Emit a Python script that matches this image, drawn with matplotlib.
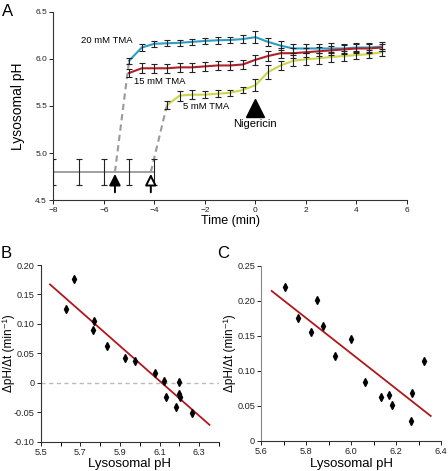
import matplotlib
matplotlib.use('Agg')
import matplotlib.pyplot as plt
import numpy as np

plt.rcParams['font.family'] = ['Liberation Sans', 'DejaVu Sans']

# panel A: time course
t20 = [-5, -4.5, -4, -3.5, -3, -2.5, -2, -1.5, -1, -0.5, 0, 0.5, 1, 1.5, 2, 2.5, 3, 3.5, 4, 4.5, 5]
ph20 = [5.98, 6.12, 6.16, 6.165, 6.17, 6.18, 6.19, 6.197, 6.20, 6.21, 6.23, 6.18, 6.14, 6.11,
        6.11, 6.11, 6.11, 6.11, 6.12, 6.12, 6.13]
err20 = [0.03, 0.034, 0.03, 0.03, 0.03, 0.03, 0.035, 0.035, 0.035, 0.04, 0.062, 0.04, 0.045, 0.048,
         0.05, 0.05, 0.053, 0.05, 0.05, 0.05, 0.045]
t15 = t20
ph15 = [5.85, 5.90, 5.90, 5.90, 5.91, 5.91, 5.92, 5.93, 5.93, 5.94, 5.99, 6.03, 6.06, 6.06,
        6.07, 6.08, 6.09, 6.10, 6.11, 6.11, 6.12]
err15 = [0.04, 0.053, 0.05, 0.05, 0.048, 0.045, 0.045, 0.048, 0.048, 0.045, 0.053, 0.05, 0.05, 0.05,
         0.05, 0.05, 0.05, 0.05, 0.05, 0.045, 0.04]
t5 = [-3.5, -3, -2.5, -2, -1.5, -1, -0.5, 0, 0.5, 1, 1.5, 2, 2.5, 3, 3.5, 4, 4.5, 5]
ph5 = [5.51, 5.61, 5.62, 5.62, 5.63, 5.64, 5.67, 5.72, 5.86, 5.93, 5.98, 5.995, 6.005, 6.02,
       6.03, 6.04, 6.05, 6.07]
err5 = [0.04, 0.053, 0.045, 0.04, 0.035, 0.03, 0.03, 0.062, 0.07, 0.05, 0.06, 0.062, 0.06, 0.055,
        0.05, 0.045, 0.04, 0.035]
t_base = [-8, -7, -6, -5, -4]
ph_base = [4.8, 4.8, 4.8, 4.8, 4.8]
err_base = [0.14, 0.14, 0.14, 0.14, 0.14]
dash1_t = [-5.56, -5.0]
dash1_ph = [4.8, 5.98]
dash2_t = [-4.14, -3.5]
dash2_ph = [4.8, 5.51]

# panel B
b_ph = [5.628, 5.668, 5.769, 5.764, 5.833, 5.926, 5.976, 6.079, 6.123, 6.200, 6.131, 6.198, 6.203, 6.185, 6.264]
b_rate = [0.126, 0.176, 0.105, 0.089, 0.063, 0.042, 0.037, 0.016, 0.002, 0.001, -0.024, -0.019, -0.024, -0.041, -0.051]
b_fit_x = [5.547, 6.352]
b_fit_y = [0.167, -0.0717]

# panel C
c_ph = [5.705, 5.763, 5.822, 5.874, 5.848, 5.929, 6.0, 6.061, 6.131, 6.168, 6.181, 6.271, 6.267, 6.324]
c_rate = [0.219, 0.175, 0.156, 0.164, 0.201, 0.121, 0.145, 0.084, 0.063, 0.065, 0.052, 0.069, 0.028, 0.114]
c_fit_x = [5.646, 6.353]
c_fit_y = [0.214, 0.0357]

W, H = 448, 471
fig = plt.figure(figsize=(W / 100, H / 100), dpi=100)

def style(ax, fs):
    for s in ['top', 'right']:
        ax.spines[s].set_visible(False)
    for s in ['left', 'bottom']:
        ax.spines[s].set_linewidth(0.8)
        ax.spines[s].set_color('#333333')
    ax.tick_params(direction='out', length=3, width=0.7, labelsize=fs, pad=1.5, colors='#222222')
    ax.tick_params(which='minor', direction='out', length=3, width=0.7)

# ---- A ----
axA = fig.add_axes([53.3 / W, 1 - 200.3 / H, (407 - 53.3) / W, (200.3 - 11.7) / H])
style(axA, 6)
axA.set_xlim(-8, 6)
axA.set_ylim(4.5, 6.5)
axA.set_xticks(range(-8, 7, 2))
axA.set_yticks([4.5, 5.0, 5.5, 6.0, 6.5])
axA.set_yticklabels(['4.5', '5.0', '5.5', '6.0', '6.5'])

eb = dict(fmt='none', ecolor='#222222', elinewidth=0.8, capsize=2.2, capthick=0.8, zorder=4)
axA.plot(t_base, ph_base, color='#a0a0a0', lw=1.4, zorder=2)
axA.errorbar(t_base, ph_base, yerr=err_base, **eb)
axA.plot(dash1_t, dash1_ph, color='#9a9a9a', lw=1.5, ls=(0, (3, 2)), zorder=1)
axA.plot(dash2_t, dash2_ph, color='#9a9a9a', lw=1.5, ls=(0, (3, 2)), zorder=1)
axA.plot(t20, ph20, color='#2a9ec4', lw=1.5, zorder=3)
axA.errorbar(t20, ph20, yerr=err20, **eb)
axA.plot(t15, ph15, color='#b3202a', lw=1.5, zorder=3)
axA.errorbar(t15, ph15, yerr=err15, **eb)
axA.plot(t5, ph5, color='#cdd64a', lw=1.5, zorder=3)
axA.errorbar(t5, ph5, yerr=err5, **eb)

axA.annotate('', xy=(-5.56, 4.78), xytext=(-5.56, 4.585),
             arrowprops=dict(arrowstyle='-|>', fc='black', ec='black', lw=1.4, mutation_scale=17,
                             shrinkA=0, shrinkB=0), zorder=5)
axA.annotate('', xy=(-4.14, 4.78), xytext=(-4.14, 4.585),
             arrowprops=dict(arrowstyle='-|>', fc='white', ec='black', lw=1.4, mutation_scale=17,
                             shrinkA=0, shrinkB=0), zorder=5)
axA.plot([0], [5.48], marker='^', ms=13, color='black', zorder=5)

axA.text(-4.85, 6.19, '20 mM TMA', fontsize=6.8, ha='right', va='center')
axA.text(-4.8, 5.76, '15 mM TMA', fontsize=6.8, ha='left', va='center')
axA.text(-2.87, 5.49, '5 mM TMA', fontsize=6.8, ha='left', va='center')
axA.text(0, 5.31, 'Nigericin', fontsize=8, ha='center', va='center')
axA.set_xlabel('Time (min)', fontsize=9, labelpad=1)
axA.set_ylabel('Lysosomal pH', fontsize=10)
axA.yaxis.set_label_coords((25 - 53.3) / (407 - 53.3), 0.5)
fig.text(8 / W, 1 - 11 / H, 'A', fontsize=12, ha='center', va='center')

# ---- B ----
axB = fig.add_axes([40.7 / W, 1 - 441.5 / H, (219 - 40.7) / W, (441.5 - 265) / H])
style(axB, 6.6)
axB.set_xlim(5.5, 6.4)
axB.set_ylim(-0.10, 0.20)
axB.set_xticks([5.5, 5.7, 5.9, 6.1, 6.3])
axB.set_xticks([5.6, 5.8, 6.0, 6.2, 6.4], minor=True)
axB.set_yticks([-0.10, -0.05, 0, 0.05, 0.10, 0.15, 0.20])
axB.set_yticklabels(['-0.10', '-0.05', '0', '0.05', '0.10', '0.15', '0.20'])
axB.axhline(0, color='#bbbbbb', lw=1, ls=(0, (3, 2.5)), zorder=1)
axB.plot(b_fit_x, b_fit_y, color='#b0181c', lw=1.3, zorder=2)
axB.plot(b_ph, b_rate, ls='none', marker='d', ms=4, color='black', zorder=3)
axB.set_xlabel('Lysosomal pH', fontsize=9.5, labelpad=1)
axB.set_ylabel('ΔpH/Δt (min⁻¹)', fontsize=8.5)
axB.yaxis.set_label_coords((15 - 40.7) / (219 - 40.7), 0.5)
fig.text(6 / W, 1 - 253 / H, 'B', fontsize=12, ha='center', va='center')

# ---- C ----
axC = fig.add_axes([261.3 / W, 1 - 441 / H, (441.3 - 261.3) / W, (441 - 265.7) / H])
style(axC, 6.6)
axC.spines['left'].set_color('#888888')
axC.set_xlim(5.6, 6.4)
axC.set_ylim(0, 0.25)
axC.set_xticks([5.6, 5.8, 6.0, 6.2, 6.4])
axC.set_xticklabels(['5.6', '5.8', '6.0', '6.2', '6.4'])
axC.set_xticks([5.7, 5.9, 6.1, 6.3], minor=True)
axC.set_yticks([0, 0.05, 0.10, 0.15, 0.20, 0.25])
axC.set_yticklabels(['0', '0.05', '0.10', '0.15', '0.20', '0.25'])
axC.plot(c_fit_x, c_fit_y, color='#b0181c', lw=1.3, zorder=2)
axC.plot(c_ph, c_rate, ls='none', marker='d', ms=4, color='black', zorder=3)
axC.set_xlabel('Lysosomal pH', fontsize=9.5, labelpad=1)
axC.set_ylabel('ΔpH/Δt (min⁻¹)', fontsize=8.5)
axC.yaxis.set_label_coords((236 - 261.3) / (441.3 - 261.3), 0.5)
fig.text(223 / W, 1 - 253 / H, 'C', fontsize=12, ha='center', va='center')

fig.savefig('out.png', dpi=100)
